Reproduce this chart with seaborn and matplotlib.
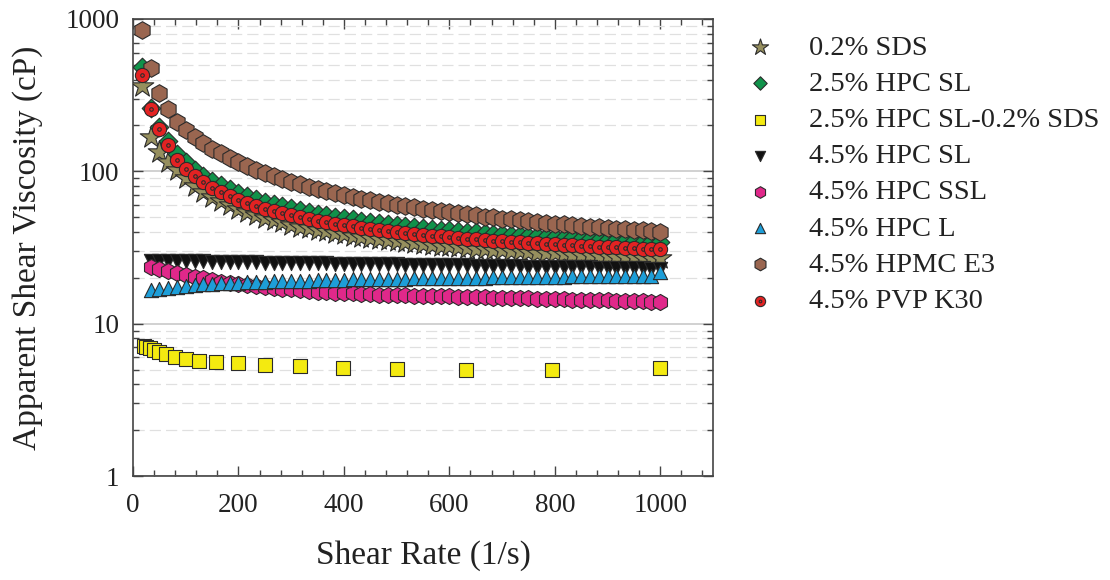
import numpy as np
import pandas as pd
import matplotlib
matplotlib.use("Agg")
import matplotlib.pyplot as plt
import seaborn as sns
from matplotlib.path import Path
from matplotlib.markers import MarkerStyle
from matplotlib.ticker import MultipleLocator, FixedLocator, FixedFormatter, NullFormatter

sns.set_theme(style="ticks")
plt.rcParams['font.family'] = ['Liberation Serif', 'DejaVu Serif']

# ---------------- data ----------------
shear_rate = [16.7, 33.3, 50, 66.7, 83.3, 100, 116.7, 133.3, 150, 166.7,
              183.3, 200, 216.7, 233.3, 250, 266.7, 283.3, 300, 316.7, 333.3,
              350, 366.7, 383.3, 400, 416.7, 433.3, 450, 466.7, 483.3, 500,
              516.7, 533.3, 550, 566.7, 583.3, 600, 616.7, 633.3, 650, 666.7,
              683.3, 700, 716.7, 733.3, 750, 766.7, 783.3, 800, 816.7, 833.3,
              850, 866.7, 883.3, 900, 916.7, 933.3, 950, 966.7, 983.3, 1000]

shear_rate_log = [20, 25.1, 31.6, 39.8, 50.1, 63.1, 79.4, 100, 126, 158,
                  200, 251, 316, 398, 501, 631, 794, 1000]

sds_02 = [362, 168, 134, 115, 102.6, 89.9, 80.6, 73.5, 67.9, 63.4,
          59.7, 56.6, 53.9, 51.6, 49.5, 47.8, 46.2, 44.7, 43.4, 42.3,
          41.2, 40.3, 39.4, 38.6, 37.8, 37.1, 36.5, 35.8, 35.3, 34.7,
          34.3, 33.8, 33.3, 33.0, 32.5, 32.2, 31.8, 31.5, 31.1, 30.9,
          30.5, 30.3, 30.0, 29.8, 29.6, 29.3, 29.1, 28.9, 28.6, 28.4,
          28.3, 28.1, 27.9, 27.8, 27.6, 27.4, 27.2, 27.1, 27.0, 26.8]

hpc_sl_25 = [485, 261, 194, 157, 130.9, 114.7, 102.8, 93.8, 86.7, 80.9,
             76.1, 72.2, 68.7, 65.8, 63.2, 60.9, 58.9, 57.1, 55.4, 53.9,
             52.6, 51.4, 50.3, 49.3, 48.3, 47.4, 46.5, 45.7, 45.1, 44.3,
             43.7, 43.1, 42.5, 42.1, 41.5, 41.1, 40.6, 40.2, 39.7, 39.4,
             39.0, 38.6, 38.3, 38.0, 37.7, 37.4, 37.1, 36.9, 36.5, 36.3,
             36.1, 35.9, 35.6, 35.4, 35.2, 35.0, 34.7, 34.5, 34.4, 34.2]

hpc_sl_sds = [7.15, 7.0, 6.9, 6.75, 6.55, 6.3, 6.05, 5.85, 5.7, 5.6,
              5.5, 5.35, 5.25, 5.15, 5.05, 5.0, 5.0, 5.1]

hpc_sl_45 = [25.9, 25.8, 25.8, 25.7, 25.7, 25.6, 25.6, 25.5, 25.5, 25.4,
             25.4, 25.3, 25.3, 25.2, 25.2, 25.1, 25.1, 25.0, 25.0, 24.9,
             24.9, 24.8, 24.8, 24.7, 24.7, 24.6, 24.6, 24.5, 24.5, 24.4,
             24.4, 24.3, 24.3, 24.2, 24.2, 24.1, 24.1, 24.0, 24.0, 23.9,
             23.9, 23.8, 23.8, 23.7, 23.7, 23.6, 23.6, 23.5, 23.5, 23.4,
             23.4, 23.3, 23.3, 23.2, 23.2, 23.1, 23.1, 23.0, 22.9]

hpc_ssl_45 = [23.7, 23.0, 22.3, 21.6, 20.9, 20.3, 19.8, 19.3, 18.9, 18.5,
              18.2, 17.9, 17.6, 17.4, 17.2, 17.0, 16.8, 16.6, 16.4, 16.2,
              16.1, 16.0, 15.9, 15.8, 15.7, 15.6, 15.5, 15.45, 15.4, 15.35,
              15.3, 15.25, 15.2, 15.15, 15.1, 15.05, 15.0, 14.95, 14.9, 14.85,
              14.8, 14.75, 14.7, 14.65, 14.6, 14.55, 14.5, 14.45, 14.4, 14.35,
              14.3, 14.25, 14.2, 14.15, 14.1, 14.05, 14.0, 13.95, 13.9]

hpc_l_45 = [16.7, 16.8, 17.1, 17.4, 17.7, 17.9, 18.1, 18.3, 18.4, 18.5,
            18.6, 18.7, 18.8, 18.9, 19.0, 19.0, 19.1, 19.2, 19.2, 19.3,
            19.3, 19.4, 19.4, 19.5, 19.5, 19.6, 19.6, 19.7, 19.7, 19.7,
            19.8, 19.8, 19.8, 19.9, 19.9, 19.9, 20.0, 20.0, 20.0, 20.1,
            20.1, 20.1, 20.2, 20.2, 20.2, 20.3, 20.3, 20.3, 20.4, 20.4,
            20.4, 20.5, 20.5, 20.5, 20.6, 20.6, 20.6, 20.7, 21.8]

hpmc_e3_45 = [847, 478, 327, 255, 211, 188, 169, 153, 141, 131.1,
              122.1, 114.4, 107.9, 102.1, 97.1, 92.7, 88.8, 85.3, 82.1, 79.2,
              76.6, 74.2, 72.0, 69.9, 68.0, 66.3, 64.7, 63.2, 61.7, 60.4,
              59.2, 57.9, 56.8, 55.8, 54.8, 53.9, 52.9, 52.1, 51.3, 50.5,
              49.8, 49.0, 48.4, 47.7, 47.1, 46.5, 45.9, 45.4, 44.9, 44.4,
              43.9, 43.4, 42.9, 42.5, 42.0, 41.6, 41.2, 40.9, 40.5, 40.1]

pvp_k30_45 = [428, 255, 191, 148, 117.9, 103.3, 92.6, 84.5, 78.1, 72.9,
              68.6, 65.0, 61.9, 59.3, 56.9, 54.9, 53.1, 51.4, 49.9, 48.6,
              47.4, 46.3, 45.3, 44.4, 43.5, 42.7, 41.9, 41.2, 40.6, 39.9,
              39.4, 38.8, 38.3, 37.9, 37.4, 37.0, 36.6, 36.2, 35.8, 35.5,
              35.1, 34.8, 34.5, 34.2, 34.0, 33.7, 33.4, 33.2, 32.9, 32.7,
              32.5, 32.3, 32.1, 31.9, 31.7, 31.5, 31.3, 31.1, 31.0, 30.8]

labels = ["0.2% SDS", "2.5% HPC SL", "2.5% HPC SL-0.2% SDS", "4.5% HPC SL",
          "4.5% HPC SSL", "4.5% HPC L", "4.5% HPMC E3", "4.5% PVP K30"]
y_tick_values = [1, 10, 100, 1000]
y_tick_labels = ["1", "10", "100", "1000"]
x_tick_values = [0, 200, 400, 600, 800, 1000]

# ---------------- style ----------------
ring = MarkerStyle(Path.make_compound_path(Path.unit_circle(),
                                           Path.circle((0, 0), 0.25)))
series = [
    (shear_rate, sds_02, '*', '#968f5e', 290),
    (shear_rate, hpc_sl_25, 'D', '#10924a', 90),
    (shear_rate_log, hpc_sl_sds, 's', '#f4ea10', 105),
    (shear_rate[1:], hpc_sl_45, 'v', '#111111', 105),
    (shear_rate[1:], hpc_ssl_45, 'h', '#e0288a', 135),
    (shear_rate[1:], hpc_l_45, '^', '#1d9ed8', 105),
    (shear_rate, hpmc_e3_45, 'h', '#9a6650', 160),
    (shear_rate, pvp_k30_45, ring, '#e32222', 105),
]

fig = plt.figure(figsize=(11.1, 5.8), dpi=100)
ax = fig.add_axes([133 / 1110, 1 - 476 / 580, 580 / 1110, 457 / 580])

for i, ((xs, ys, mk, col, sz), lab) in enumerate(zip(series, labels)):
    df = pd.DataFrame({"x": xs, "y": ys})
    sns.scatterplot(data=df, x="x", y="y", marker=mk, color=col, s=sz,
                    edgecolor='#2b2b2b', linewidth=0.8, label=lab, ax=ax,
                    zorder=3 + i, legend=False)

ax.set_yscale('log')
ax.set_xlim(0, 1100)
ax.set_ylim(1, 1000)

ax.yaxis.set_major_locator(FixedLocator(y_tick_values))
ax.yaxis.set_major_formatter(FixedFormatter(y_tick_labels))
minor_y = [m * d for d in (1, 10, 100) for m in range(2, 10)]
ax.yaxis.set_minor_locator(FixedLocator(minor_y))
ax.yaxis.set_minor_formatter(NullFormatter())
ax.xaxis.set_major_locator(FixedLocator(x_tick_values))
ax.xaxis.set_minor_locator(MultipleLocator(40))

ax.grid(False)
ax.yaxis.grid(True, which='major', color='#c9c9c9', linewidth=1.2, linestyle='-')
ax.yaxis.grid(True, which='minor', color='#e0e0e0', linewidth=0.9,
              linestyle=(0, (9, 4)))
ax.set_axisbelow(True)

for sp in ax.spines.values():
    sp.set_color('#444444')
    sp.set_linewidth(1.2)
    sp.set_visible(True)

ax.tick_params(which='both', direction='in', top=True, right=True,
               color='#444444', width=1.0)
ax.tick_params(which='major', length=7, labelsize=19.5, labelcolor='#222222')
ax.tick_params(which='minor', length=4)
ax.tick_params(axis='x', which='major', pad=12.5)
ax.tick_params(axis='y', which='major', pad=10)

ax.set_xlabel("Shear Rate (1/s)", fontsize=24, color='#222222', labelpad=16)
ax.set_ylabel("Apparent Shear Viscosity (cP)", fontsize=24, color='#222222',
              labelpad=16)

leg = ax.legend(loc='upper left', bbox_to_anchor=(0.672, 0.94),
                bbox_transform=fig.transFigure, frameon=False, fontsize=20.5,
                handlelength=1.0, handletextpad=1.2, labelspacing=0.36,
                borderpad=0, borderaxespad=0, markerscale=0.72,
                scatterpoints=1)
for t in leg.get_texts():
    t.set_color('#222222')

fig.savefig("out.png", dpi=100)
